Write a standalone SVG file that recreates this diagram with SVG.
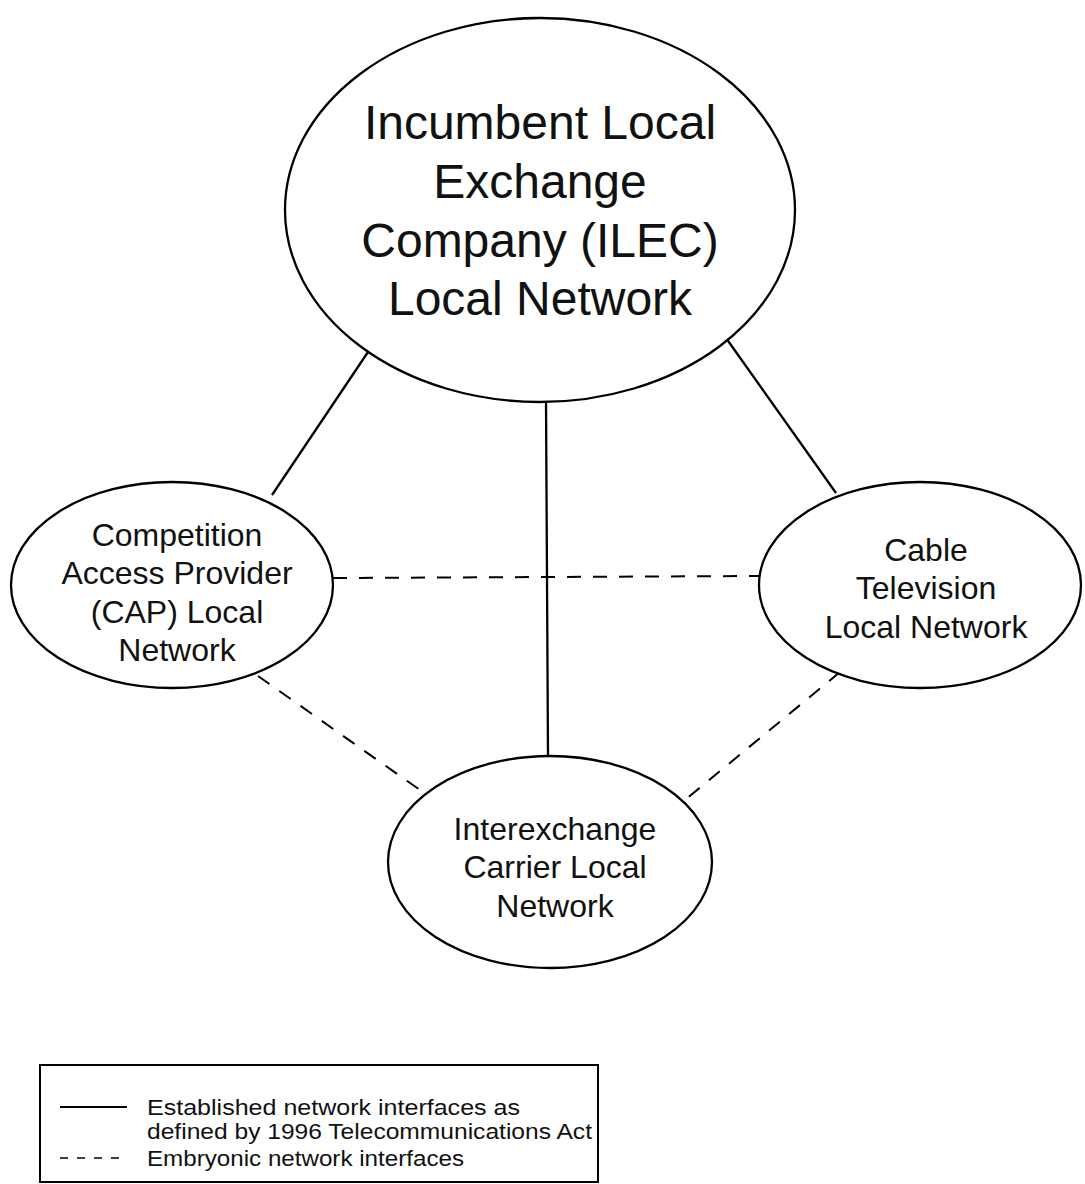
<svg xmlns="http://www.w3.org/2000/svg" width="1085" height="1184" viewBox="0 0 1085 1184">
  <style>
    .node { fill: #ffffff; stroke: #000000; stroke-width: 2.3; }
    .label { font-family: "Liberation Sans", Arial, sans-serif; fill: #111111; text-anchor: middle; }
    .big { font-size: 48px; }
    .mid { font-size: 32px; }
    .legend { font-family: "Liberation Sans", Arial, sans-serif; fill: #111111; font-size: 22px; }
    .solid { stroke: #000000; stroke-width: 2.3; fill: none; }
    .dashed { stroke: #000000; stroke-width: 2; fill: none; stroke-dasharray: 14 12; }
  </style>
  <rect width="1085" height="1184" fill="#ffffff"/>

  <!-- connectors -->
  <g id="connectors">
    <line class="solid" x1="368" y1="352" x2="272" y2="495"/>
    <line class="solid" x1="546" y1="400" x2="548" y2="757"/>
    <line class="solid" x1="726" y1="338" x2="836" y2="493"/>
    <line class="dashed" x1="333" y1="578" x2="759" y2="576"/>
    <line class="dashed" x1="258" y1="676" x2="420" y2="790"/>
    <line class="dashed" x1="840" y1="672" x2="685" y2="800"/>
  </g>

  <!-- ILEC -->
  <g id="ilec">
    <ellipse class="node" cx="540" cy="210" rx="255" ry="192"/>
    <text class="label big" x="540" y="139">Incumbent Local</text>
    <text class="label big" x="540" y="198">Exchange</text>
    <text class="label big" x="540" y="257">Company (ILEC)</text>
    <text class="label big" x="540" y="315">Local Network</text>
  </g>

  <!-- CAP -->
  <g id="cap">
    <ellipse class="node" cx="172" cy="585" rx="161" ry="103"/>
    <text class="label mid" x="177" y="546">Competition</text>
    <text class="label mid" x="177" y="584">Access Provider</text>
    <text class="label mid" x="177" y="623">(CAP) Local</text>
    <text class="label mid" x="177" y="661">Network</text>
  </g>

  <!-- Cable TV -->
  <g id="cable">
    <ellipse class="node" cx="920" cy="585" rx="161" ry="103"/>
    <text class="label mid" x="926" y="561">Cable</text>
    <text class="label mid" x="926" y="599">Television</text>
    <text class="label mid" x="926" y="638">Local Network</text>
  </g>

  <!-- IXC -->
  <g id="ixc">
    <ellipse class="node" cx="550" cy="862" rx="162" ry="106"/>
    <text class="label mid" x="555" y="840">Interexchange</text>
    <text class="label mid" x="555" y="878">Carrier Local</text>
    <text class="label mid" x="555" y="917">Network</text>
  </g>

  <!-- legend -->
  <g id="legend">
    <rect x="40" y="1065" width="558" height="117" fill="none" stroke="#000" stroke-width="2"/>
    <line x1="60" y1="1107" x2="127" y2="1107" stroke="#000" stroke-width="2.2"/>
    <line x1="60" y1="1158" x2="127" y2="1158" stroke="#000" stroke-width="1.6" stroke-dasharray="8 9"/>
    <text class="legend" x="147" y="1115" textLength="373" lengthAdjust="spacingAndGlyphs">Established network interfaces as</text>
    <text class="legend" x="147" y="1139" textLength="445" lengthAdjust="spacingAndGlyphs">defined by 1996 Telecommunications Act</text>
    <text class="legend" x="147" y="1166" textLength="317" lengthAdjust="spacingAndGlyphs">Embryonic network interfaces</text>
  </g>
</svg>
